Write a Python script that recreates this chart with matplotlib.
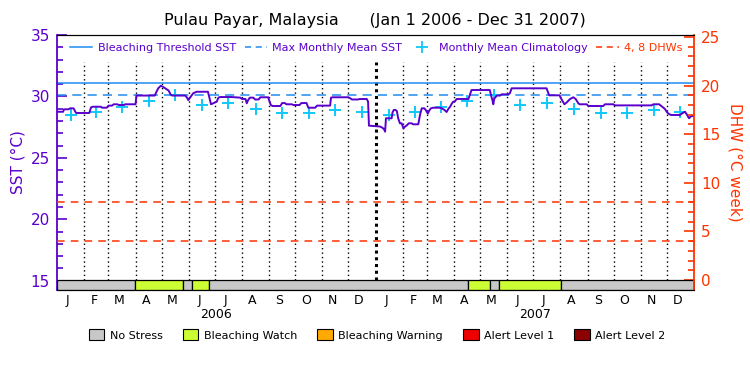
import matplotlib
matplotlib.use("Agg")
import matplotlib.pyplot as plt
from matplotlib.lines import Line2D
from matplotlib.patches import Patch
from matplotlib.ticker import MultipleLocator
import matplotlib.transforms as mtransforms

# ---------------- data ----------------
title = "Pulau Payar, Malaysia      (Jan 1 2006 - Dec 31 2007)"
# SST time series: day offset from Jan 1 2006, SST (deg C)
sst_days = [0, 7, 8, 13, 15, 19, 21, 22, 37, 39, 41, 50, 52, 57, 59, 63, 65, 69, 71, 77, 78, 90,
            91, 112, 114, 116, 119, 121, 124, 128, 130, 132, 147, 149, 150.5, 152, 156, 160, 173,
            174, 175, 176.5, 179, 183, 185, 187, 200, 210, 212, 216, 217.5, 219, 221, 225, 227,
            231, 233, 242, 244, 245, 247, 256, 258, 261, 263, 269, 271, 278, 280, 286, 288, 296,
            298, 313, 314, 316, 334, 336, 338, 345, 347, 355, 356.5, 357.5, 370, 373, 375, 376,
            377, 383.5, 384.5, 386, 388, 389.5, 391, 393, 395, 397, 399, 401, 403, 406.5, 408,
            414, 416, 418, 421, 422.5, 425, 426.5, 428.5, 431, 439, 441, 444, 446.5, 448.5,
            450.5, 452, 454, 456, 458, 471.5, 473.3, 475, 496, 497.5, 499, 500, 501, 504, 507.7,
            509.6, 517, 519, 521, 561, 562.5, 564, 576, 578, 581.5, 584, 588, 591.7, 594.4,
            597.4, 599, 607, 609, 626, 628, 637.5, 639.5, 681.5, 683.4, 690, 692, 695, 697,
            698.7, 700.6, 703.6, 714, 716, 719.7, 721.6, 724.3, 725.4, 727, 730]
sst_vals = [28.75, 28.75, 28.95, 28.95, 29.03, 29.03, 28.75, 28.65, 28.65, 29.11, 29.16, 29.16,
            29.08, 29.08, 29.25, 29.25, 29.36, 29.36, 29.30, 29.30, 29.36, 29.36, 30.07, 30.07,
            30.38, 30.66, 30.87, 30.80, 30.66, 30.47, 30.17, 30.07, 30.07, 29.90, 29.70, 29.85,
            30.25, 30.38, 30.38, 30.07, 29.80, 29.36, 29.44, 29.57, 29.90, 29.95, 29.95, 29.90,
            29.79, 29.79, 29.44, 29.70, 29.90, 29.90, 29.75, 29.75, 29.93, 29.93, 29.50, 29.30,
            29.22, 29.22, 29.46, 29.46, 29.36, 29.36, 29.30, 29.30, 29.46, 29.46, 29.08, 29.08,
            29.25, 29.25, 29.90, 29.93, 29.93, 29.85, 29.75, 29.75, 29.79, 29.79, 29.57, 27.62,
            27.55, 27.45, 27.30, 27.13, 28.22, 28.22, 28.70, 28.90, 28.90, 28.80, 28.22, 27.81,
            27.81, 27.40, 27.55, 27.65, 27.81, 27.81, 27.73, 27.73, 28.49, 29.03, 29.03, 28.90,
            28.60, 28.85, 29.03, 29.08, 29.08, 29.03, 28.90, 28.73, 28.98, 29.16, 29.36, 29.57,
            29.60, 29.79, 29.79, 30.17, 30.52, 30.52, 30.07, 29.70, 29.36, 29.80, 30.07, 30.07,
            30.17, 30.17, 30.25, 30.66, 30.66, 30.38, 30.09, 30.09, 29.79, 29.36, 29.50, 29.79,
            29.93, 29.79, 29.44, 29.36, 29.36, 29.22, 29.22, 29.36, 29.36, 29.27, 29.27, 29.36,
            29.36, 29.25, 29.08, 28.95, 28.75, 28.60, 28.49, 28.49, 28.60, 28.75, 28.55, 28.22,
            28.30, 28.40, 28.40]

mmm = 30.1                 # Max Monthly Mean SST
threshold = 31.1           # Bleaching Threshold SST
dhw_levels = [4, 8]        # DHW reference lines

clim_monthly = [28.49, 28.70, 29.11, 29.65, 30.11, 29.30, 29.44, 28.95, 28.68, 28.68, 28.89, 28.76]

month_starts = [0, 31, 59, 90, 120, 151, 181, 212, 243, 273, 304, 334,
                365, 396, 424, 455, 485, 516, 546, 577, 608, 638, 669, 699, 730]
month_letters = ["J", "F", "M", "A", "M", "J", "J", "A", "S", "O", "N", "D"] * 2
years = ["2006", "2007"]

# stress level segments: start day, end day, level index
stress_start = [0, 89.4, 144.4, 154.7, 174.2, 471, 496, 506.5, 577.6]
stress_end = [89.4, 144.4, 154.7, 174.2, 471, 496, 506.5, 577.6, 730]
stress_level = [0, 1, 0, 1, 0, 1, 0, 1, 0]
stress_names = ["No Stress", "Bleaching Watch", "Bleaching Warning", "Alert Level 1", "Alert Level 2"]
stress_colors = ["#C8C8C8", "#CCFF33", "#FFAA00", "#EE0000", "#8B0000"]

# ---------------- style ----------------
PURPLE = "#5A00CC"
BLUE = "#1E8CF0"
CYAN = "#10C8F8"
RED = "#FF3300"

fig = plt.figure(figsize=(7.5, 3.75), dpi=100)
ax = fig.add_axes([57 / 750, 1 - 290 / 375, 637 / 750, 255 / 375])
ax2 = ax.twinx()

ax.set_xlim(0, 730)
ax.set_ylim(14.24, 35.0)
ax2.set_ylim(-1.03, 25.2)

# month dotted lines
for i, d in enumerate(month_starts[1:-1]):
    is_year = (d == 365)
    ax.vlines(d, 15.05, 32.8, colors="black",
              linestyles=(0, (1, 2.2)) if not is_year else (0, (1, 1.2)),
              linewidth=1.0 if not is_year else 2.2, zorder=1)

# reference lines
ax.axhline(threshold, color=BLUE, lw=1.1, zorder=2)
ax.axhline(mmm, color=BLUE, lw=1.1, ls=(0, (6, 4)), zorder=2)

# climatology crosses at mid-month
clim_days = [(month_starts[i] + month_starts[i + 1]) / 2 for i in range(24)]
clim_vals = clim_monthly * 2
ax.plot(clim_days, clim_vals, ls="none", marker="+", ms=9, mew=1.4, color=CYAN, zorder=3)

# SST line
ax.plot(sst_days, sst_vals, color=PURPLE, lw=1.4, zorder=4)

# DHW lines
for lv in dhw_levels:
    ax2.axhline(lv, color=RED, lw=1.1, ls=(0, (5, 4)))

# stress bar
for s, e, lv in zip(stress_start, stress_end, stress_level):
    ax2.broken_barh([(s, e - s)], (-1.03, 1.03), facecolors=stress_colors[lv],
                    edgecolor="black", linewidth=0.9, zorder=2)

# spines
ax.spines["right"].set_visible(False)
ax.spines["left"].set_color(PURPLE)
ax.spines["left"].set_linewidth(1.3)
ax2.spines["left"].set_visible(False)
ax2.spines["right"].set_color(RED)
ax2.spines["right"].set_linewidth(1.3)
for a in (ax, ax2):
    a.spines["top"].set_color("black")
    a.spines["bottom"].set_color("black")

# y ticks
ax.yaxis.set_major_locator(MultipleLocator(5))
ax.yaxis.set_minor_locator(MultipleLocator(1))
ax.tick_params(axis="y", which="both", direction="in", colors=PURPLE, labelsize=11, pad=5)
ax.tick_params(axis="y", which="major", length=7, width=1.2)
ax.tick_params(axis="y", which="minor", length=4, width=1.2)
ax2.yaxis.set_major_locator(MultipleLocator(5))
ax2.yaxis.set_minor_locator(MultipleLocator(1))
ax2.tick_params(axis="y", which="both", direction="in", colors=RED, labelsize=11, pad=5)
ax2.tick_params(axis="y", which="major", length=7, width=1.2)
ax2.tick_params(axis="y", which="minor", length=4, width=1.2)

# x labels
label_days = [month_starts[i] + 12 for i in range(24)]
ax.set_xticks(label_days)
ax.set_xticklabels(month_letters, fontsize=9)
ax.tick_params(axis="x", length=0, pad=3)
trans = mtransforms.blended_transform_factory(ax.transData, ax.transAxes)
for k, y in enumerate(years):
    ax.text(182.5 + 365 * k, -0.095, y, transform=trans, ha="center", va="center", fontsize=9)

ax.set_ylabel("SST (°C)", color=PURPLE, fontsize=11, labelpad=4)
ax2.set_ylabel("DHW (°C week)", color=RED, fontsize=11, rotation=270, labelpad=16)

fig.text(0.5, 1 - 20 / 375, title, ha="center", va="center", fontsize=11.5)

# top legend
handles = [Line2D([], [], color=BLUE, lw=1.1),
           Line2D([], [], color=BLUE, lw=1.1, ls=(0, (4, 3))),
           Line2D([], [], ls="none", marker="+", ms=8, mew=1.3, color=CYAN),
           Line2D([], [], color=RED, lw=1.1, ls=(0, (4, 3)))]
labels = ["Bleaching Threshold SST", "Max Monthly Mean SST", "Monthly Mean Climatology", "4, 8 DHWs"]
leg = ax2.legend(handles, labels, loc="center left", bbox_to_anchor=(0.02, 0.95), ncol=4,
                 frameon=False, fontsize=8, handlelength=2.0, handletextpad=0.5,
                 columnspacing=0.8, borderpad=0, borderaxespad=0,
                 labelcolor=[PURPLE, PURPLE, PURPLE, RED])

# bottom legend
shandles = [Patch(facecolor=c, edgecolor="black", linewidth=0.8) for c in stress_colors]
fig.legend(shandles, stress_names, loc="center", bbox_to_anchor=(0.503, 1 - 335 / 375), ncol=5,
           frameon=False, fontsize=8, handlelength=1.4, handleheight=1.1, handletextpad=0.5,
           columnspacing=1.8)

fig.savefig("out.png", dpi=100)
